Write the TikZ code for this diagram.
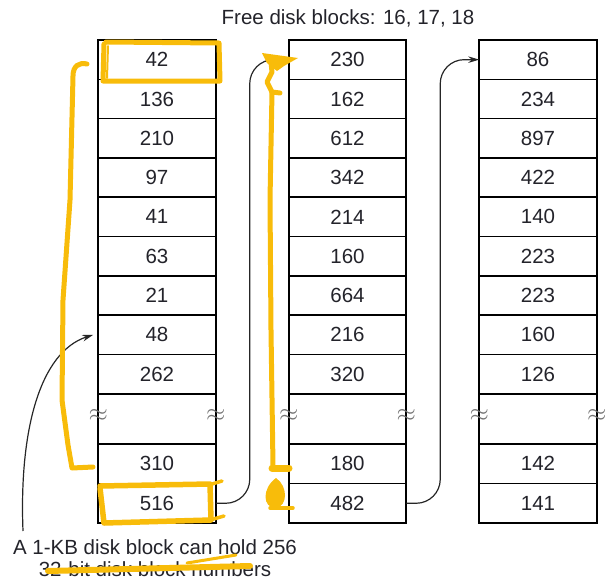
\documentclass[tikz,border=0pt]{standalone}
\usepackage{fontspec}
\setmainfont{Liberation Sans}
\usetikzlibrary{arrows.meta}
\definecolor{hlc}{RGB}{248,188,10}
\definecolor{txt}{RGB}{35,35,42}
\begin{document}
\begin{tikzpicture}[x=1pt,y=-1pt,
  cell/.style={draw=black, line width=1.6pt, minimum width=117.5pt, minimum height=39.3pt,
    inner sep=0pt, outer sep=0pt, text=txt, font=\fontsize{20.5}{24}\selectfont},
  gapcell/.style={cell, minimum height=50.3pt},
  lowcell/.style={cell, minimum height=39.5pt},
  conn/.style={draw=black!85, line width=1.2pt, -{Stealth[length=11pt,width=6.5pt]}},
  wave/.style={text=black!55, inner sep=0pt, font=\fontsize{26}{26}\selectfont},
  lbl/.style={text=txt, font=\fontsize{20.5}{24}\selectfont, inner sep=0pt},
  yel/.style={draw=hlc, line width=5pt, line cap=round, line join=round},
  ]
\useasboundingbox (0,0) rectangle (606,579);

% title
\node[lbl, anchor=base] (title) at (348,24) {Free disk blocks: 16, 17, 18};

% column 1
\foreach \v [count=\i] in {42,136,210,97,41,63,21,48,262}
  \node[cell] (a\i) at (157,{40+39.3*(\i-0.5)}) {\v};
\node[gapcell] (a10) at (157,418.85) {};
\node[lowcell] (a11) at (157,463.75) {310};
\node[lowcell] (a12) at (157,503.25) {516};

% column 2
\foreach \v [count=\i] in {230,162,612,342,214,160,664,216,320}
  \node[cell] (b\i) at (347.5,{40+39.3*(\i-0.5)}) {\v};
\node[gapcell] (b10) at (347.5,418.85) {};
\node[lowcell] (b11) at (347.5,463.75) {180};
\node[lowcell] (b12) at (347.5,503.25) {482};

% column 3
\foreach \v [count=\i] in {86,234,897,422,140,223,223,160,126}
  \node[cell] (c\i) at (538,{40+39.3*(\i-0.5)}) {\v};
\node[gapcell] (c10) at (538,418.85) {};
\node[lowcell] (c11) at (538,463.75) {142};
\node[lowcell] (c12) at (538,503.25) {141};

% break marks
\node[wave] (wa1) at ([yshift=3pt]a10.west) {$\approx$};
\node[wave] (wa2) at ([yshift=3pt]a10.east) {$\approx$};
\node[wave] (wb1) at ([yshift=3pt]b10.west) {$\approx$};
\node[wave] (wb2) at ([yshift=3pt]b10.east) {$\approx$};
\node[wave] (wc1) at ([yshift=3pt]c10.west) {$\approx$};
\node[wave] (wc2) at ([yshift=3pt]c10.east) {$\approx$};

% connectors
\draw[conn, rounded corners=24pt] (a12.east) -- ++(34,0) |- (b1.west);
\draw[conn, rounded corners=24pt] (b12.east) -- ++(34,0) |- (c1.west);
\coordinate (s) at (23,531);
\draw[conn] (s) .. controls (19,430) and (40,352) .. ([xshift=-5pt]a8.west);

% caption
\node[lbl, anchor=base] (cap1) at (155,554) {A 1-KB disk block can hold 256};
\node[lbl, anchor=base] (cap2) at (155,576) {32-bit disk block numbers};

% yellow annotations
\draw[yel] (104,44) -- (103,81) -- (220,81) -- (219,43) -- (106,42);
\draw[yel, line width=2pt] (108,46) -- (107,78);
\draw[yel, line width=5.5pt] (100,486) -- (210,484) -- (211,520) -- (104,523) -- (100,488);
\draw[yel, line width=3.5pt] (210,520) -- (224,516);
\draw[yel, line width=3.5pt] (212,484) -- (222,481);
\draw[yel] (87,64) .. controls (79,62) and (73,66) .. (73,76) -- (70,200) -- (63,300) -- (62,400) -- (68,445) -- (72,468) -- (93,467);
% column-2 marker
\fill[hlc] (262,53) -- (298,58) -- (284,66) -- (277,71) -- (267,63) -- cycle;
\draw[yel] (271,62) -- (272,72) -- (267,82) -- (272,92) -- (280,93);
\draw[yel] (272,92) -- (270,200) -- (271,330) -- (273,466);
\draw[yel, line width=7pt] (272,468) -- (289,468);
\fill[hlc] (276,478) .. controls (262,488) and (262,508) .. (276,508) .. controls (288,506) and (288,486) .. cycle;
\draw[yel, line width=3.5pt] (270,508) -- (293,508);
% caption strokes
\draw[yel, line width=6pt] (48,571) -- (250,566);
\draw[yel, line width=3pt] (187,563) -- (236,555);
\end{tikzpicture}
\end{document}
